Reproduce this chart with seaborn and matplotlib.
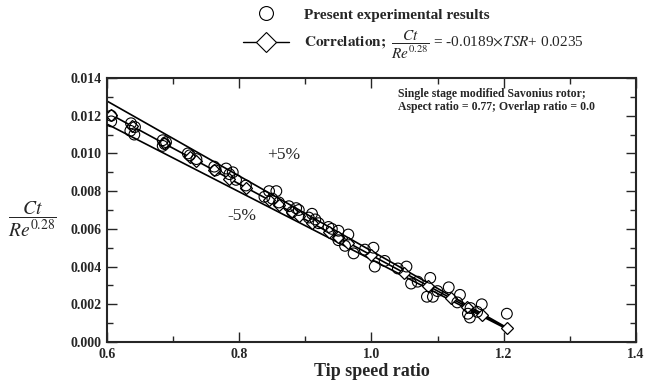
import matplotlib
matplotlib.use("Agg")
import matplotlib.pyplot as plt
import seaborn as sns
import pandas as pd
from matplotlib.lines import Line2D
from matplotlib.ticker import MultipleLocator, FormatStrFormatter

# ---------------- data ----------------
exp_tsr = [0.606, 0.606, 0.636, 0.642, 0.635, 0.641, 0.684, 0.689, 0.687, 0.684,
           0.722, 0.725, 0.735, 0.762, 0.764, 0.780, 0.790, 0.785, 0.795, 0.810,
           0.838, 0.845, 0.856, 0.850, 0.860, 0.875, 0.880, 0.886, 0.890, 0.905,
           0.910, 0.915, 0.920, 0.935, 0.940, 0.950, 0.950, 0.965, 0.960, 0.973,
           0.990, 1.003, 1.005, 1.020, 1.040, 1.053, 1.060, 1.070, 1.089, 1.084,
           1.093, 1.100, 1.117, 1.130, 1.134, 1.146, 1.149, 1.150, 1.160, 1.167,
           1.205]
exp_ct = [0.0120, 0.0117, 0.0116, 0.0114, 0.0112, 0.0110, 0.0107, 0.0106, 0.0105, 0.0104,
          0.0100, 0.0099, 0.0097, 0.0093, 0.0091, 0.0092, 0.0090, 0.0089, 0.0086, 0.0083,
          0.0077, 0.0080, 0.0080, 0.0076, 0.0074, 0.0072, 0.0069, 0.0071, 0.0070, 0.0066,
          0.0068, 0.0065, 0.0063, 0.0061, 0.0060, 0.0059, 0.0054, 0.0057, 0.0051, 0.0047,
          0.0049, 0.0050, 0.0040, 0.0043, 0.0039, 0.0040, 0.0031, 0.0032, 0.0034, 0.0024,
          0.0024, 0.0027, 0.0029, 0.0021, 0.0025, 0.0015, 0.0013, 0.0018, 0.0016, 0.0020,
          0.0015]

corr_tsr = [0.606, 0.638, 0.686, 0.725, 0.735, 0.762, 0.785, 0.810, 0.845, 0.860,
            0.880, 0.890, 0.910, 0.935, 0.950, 0.965, 1.000, 1.050, 1.085, 1.120,
            1.145, 1.167, 1.205]
corr_ct = [0.01205, 0.01144, 0.01053, 0.00980, 0.00961, 0.00910, 0.00866, 0.00819,
           0.00753, 0.00725, 0.00687, 0.00668, 0.00630, 0.00583, 0.00555, 0.00526,
           0.00460, 0.00366, 0.00299, 0.00233, 0.00186, 0.00144, 0.00073]

band_tsr = [0.600, 1.205]
band_upper = [0.01277, 0.00076]
band_lower = [0.01155, 0.00069]

x_ticks = [0.6, 0.8, 1.0, 1.2, 1.4]
y_ticks = [0.000, 0.002, 0.004, 0.006, 0.008, 0.010, 0.012, 0.014]

# ---------------- style ----------------
sns.set_theme(style="ticks")
plt.rcParams["font.family"] = ["Liberation Serif", "DejaVu Serif"]
plt.rcParams["mathtext.fontset"] = "stix"

fig = plt.figure(figsize=(6.46, 3.91), dpi=100)
ax = fig.add_axes([0.166, 0.1253, 0.818, 0.6752])

df_exp = pd.DataFrame({"tsr": exp_tsr, "ct": exp_ct})
df_corr = pd.DataFrame({"tsr": corr_tsr, "ct": corr_ct})
df_band = pd.DataFrame({"tsr": band_tsr, "up": band_upper, "lo": band_lower})

sns.lineplot(data=df_band, x="tsr", y="up", ax=ax, color="black", lw=1.2)
sns.lineplot(data=df_band, x="tsr", y="lo", ax=ax, color="black", lw=1.2)
sns.lineplot(data=df_corr, x="tsr", y="ct", ax=ax, color="black", lw=1.2,
             marker="D", markersize=6, markerfacecolor="white",
             markeredgecolor="black", markeredgewidth=0.9)
sns.scatterplot(data=df_exp, x="tsr", y="ct", ax=ax, s=60, facecolor="none",
                edgecolor="black", linewidth=0.8, zorder=3)

ax.set_xlim(0.6, 1.4)
ax.set_ylim(0.0, 0.014)
ax.set_xticks(x_ticks)
ax.set_yticks(y_ticks)
ax.xaxis.set_minor_locator(MultipleLocator(0.1))
ax.yaxis.set_minor_locator(MultipleLocator(0.001))
ax.xaxis.set_major_formatter(FormatStrFormatter("%.1f"))
ax.yaxis.set_major_formatter(FormatStrFormatter("%.3f"))
ax.tick_params(which="both", direction="in", top=True, right=True, width=1.0,
               labelsize=10, pad=4)
ax.tick_params(which="major", length=7)
ax.tick_params(which="minor", length=4)
for lab in ax.get_xticklabels() + ax.get_yticklabels():
    lab.set_fontweight("bold")
for sp in ax.spines.values():
    sp.set_linewidth(1.5)
    sp.set_visible(True)

ax.set_xlabel("Tip speed ratio", fontsize=13, fontweight="bold", labelpad=2)
ax.set_ylabel("")
fig.text(0.05, 0.44, r"$\dfrac{Ct}{Re^{0.28}}$", fontsize=14, ha="center", va="center")

ax.text(0.842, 0.0099, "+5%", fontsize=12.5, ha="left", va="center")
ax.text(0.782, 0.0067, "-5%", fontsize=12.5, ha="left", va="center")
ax.text(0.551, 0.962, "Single stage modified Savonius rotor;\nAspect ratio = 0.77; Overlap ratio = 0.0",
        transform=ax.transAxes, fontsize=8.5, fontweight="bold", ha="left", va="top",
        linespacing=1.1)

h1 = Line2D([], [], ls="none", marker="o", markersize=10, markerfacecolor="none",
            markeredgecolor="black", markeredgewidth=0.8)
h2 = Line2D([], [], color="black", lw=1.0, marker="D", markersize=10,
            markerfacecolor="white", markeredgecolor="black", markeredgewidth=0.8)
lab1 = "Present experimental results"
lab2 = r"$\mathbf{Correlation;}\ \dfrac{Ct}{Re^{0.28}}$ = -0.0189$\times$$TSR$+ 0.0235"
leg = fig.legend([h1, h2], [lab1, lab2], loc="upper left", bbox_to_anchor=(0.355, 1.015),
                 frameon=False, fontsize=11, handlelength=3.0, handletextpad=1.0,
                 labelspacing=0.5)
leg.get_texts()[0].set_fontweight("bold")

fig.savefig("out.png", dpi=100)
